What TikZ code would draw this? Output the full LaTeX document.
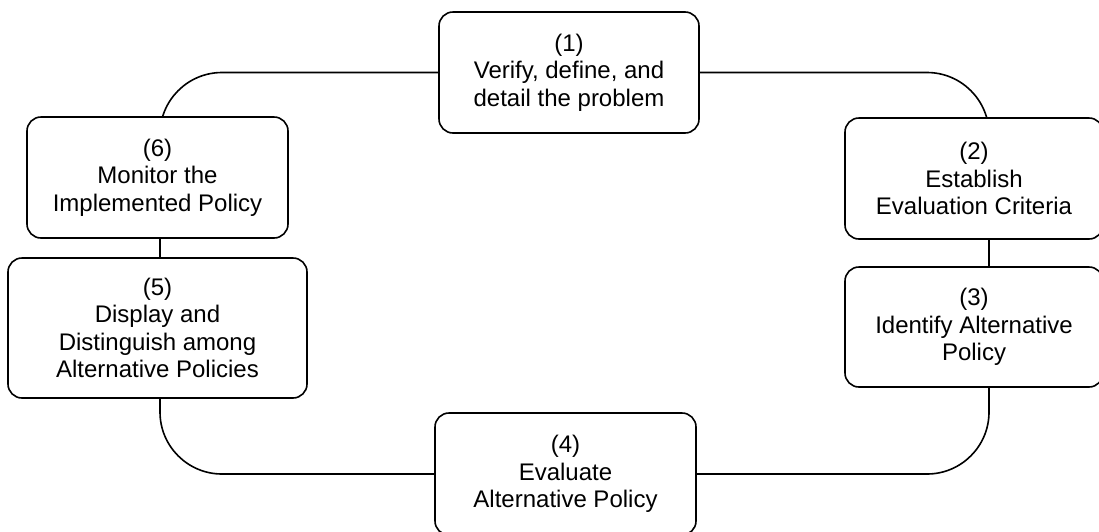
\documentclass[tikz,border=0pt]{standalone}
\usepackage{fontspec}
\setmainfont{Liberation Sans}
\usetikzlibrary{backgrounds}
\begin{document}
\begin{tikzpicture}[x=1pt,y=-1pt,
  stagebox/.style={draw=black, fill=white, line width=1.6pt, rounded corners=14pt,
    align=center, inner sep=0pt, font=\fontsize{24}{27.5}\selectfont},
  wire/.style={draw=black, line width=1.6pt, rounded corners=62pt}]
  \clip (0,0) rectangle (1099,531);
  \useasboundingbox (0,0) rectangle (1099,531);

  % the six stages of the policy cycle
  \node[stagebox, minimum width=260pt, minimum height=121pt] (b1) at (569,72.5)
    {(1)\\Verify, define, and\\detail the problem};
  \node[stagebox, minimum width=258pt, minimum height=121pt] (b2) at (974,178.5)
    {(2)\\Establish\\Evaluation Criteria};
  \node[stagebox, minimum width=258pt, minimum height=120pt] (b3) at (974,327)
    {(3)\\Identify Alternative\\Policy};
  \node[stagebox, minimum width=261pt, minimum height=122pt] (b4) at (565.5,474)
    {(4)\\Evaluate\\Alternative Policy};
  \node[stagebox, minimum width=299pt, minimum height=140pt] (b5) at (157.5,328)
    {(5)\\Display and\\Distinguish among\\Alternative Policies};
  \node[stagebox, minimum width=261pt, minimum height=121pt] (b6) at (157.5,177.5)
    {(6)\\Monitor the\\Implemented Policy};

  % connecting loop, drawn behind the boxes
  \begin{pgfonlayer}{background}
    \draw[wire] (b1.center) -| ([xshift=15pt]b2.center);
    \draw[wire] ([xshift=15pt]b2.center) -- ([xshift=15pt]b3.center);
    \draw[wire] ([xshift=15pt]b3.center) |- (b4.center);
    \draw[wire] (b4.center) -| ([xshift=2.5pt]b5.center);
    \draw[wire] ([xshift=2.5pt]b5.center) -- ([xshift=2.5pt]b6.center);
    \draw[wire] ([xshift=2.5pt]b6.center) |- (b1.center);
  \end{pgfonlayer}
\end{tikzpicture}
\end{document}
